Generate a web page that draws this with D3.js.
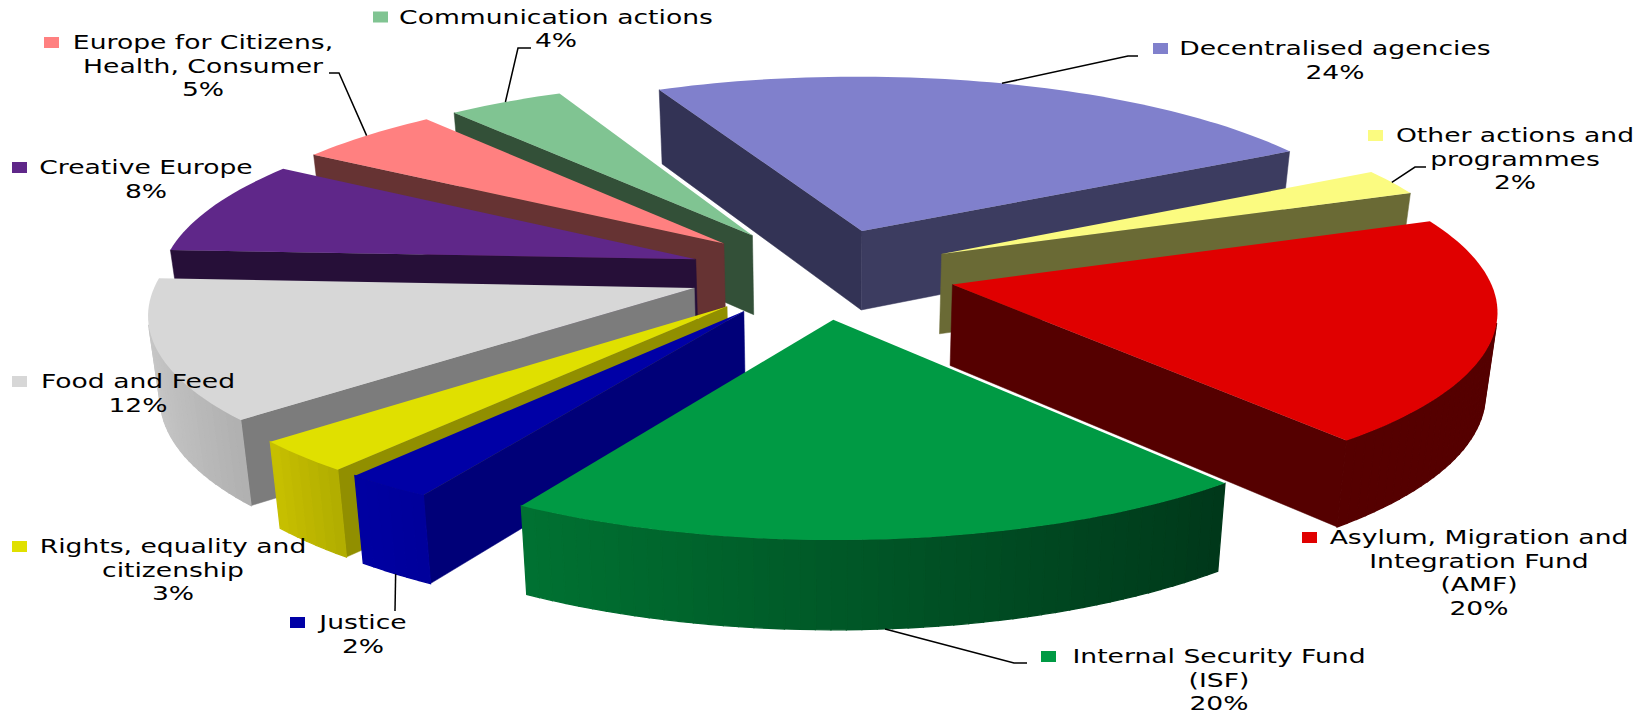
<!DOCTYPE html>
<html>
<head>
<meta charset="utf-8">
<script src="https://cdn.jsdelivr.net/npm/d3@7"></script>
<style>
  body { margin: 0; background: #fff; }
  text { font-family: "DejaVu Sans", sans-serif; font-size: 19px; fill: #000; text-anchor: middle; }
</style>
</head>
<body>
<svg width="1649" height="713"></svg>
<script>
// slices, clockwise from the first one
var labels = [
  ["Decentralised agencies"],
  ["Other actions and", "programmes"],
  ["Asylum, Migration and", "Integration Fund", "(AMF)"],
  ["Internal Security Fund", "(ISF)"],
  ["Justice"],
  ["Rights, equality and", "citizenship"],
  ["Food and Feed"],
  ["Creative Europe"],
  ["Europe for Citizens,", "Health, Consumer"],
  ["Communication actions"]
];
// shares, the labels show them rounded
var values = [23.8, 2.3, 19.7, 19.55, 2.33, 2.8, 12.2, 8.2, 5, 4];

// colours: top, start face, end face, outer wall left, outer wall right
var topColors = ["#8080cc", "#fbfb80", "#e00000", "#009a44", "#0000a6", "#e0e000", "#d7d7d7", "#5f2789", "#ff8080", "#80c492"];
var startColors = ["#333355", "#666633", "#550000", "#003a18", "#000078", "#918f00", "#7c7c7c", "#260f38", "#663333", "#335038"];
var endColors = ["#3c3c60", "#6a6a35", "#550000", "#003a18", "#000078", "#918f00", "#7c7c7c", "#260f38", "#663333", "#335038"];
var wallLeft = ["#3c3c60", "#6a6a35", "#550000", "#007232", "#0000a2", "#c8c000", "#c8c8c8", "#260f38", "#663333", "#335038"];
var wallRight = ["#3c3c60", "#6a6a35", "#550000", "#00381a", "#00009a", "#b0ac00", "#b0b0b0", "#260f38", "#663333", "#335038"];

// back to front
var drawOrder = [0, 1, 2, 9, 8, 7, 6, 5, 4, 3];

// label layout
var labelX = [1335, 1515, 1479, 1219, 363, 173, 138, 146, 203, 556];
var labelY = [55, 142, 544, 663, 629, 553, 388, 174, 49, 23.5];
var markerX = [1153, 1368, 1302, 1041, 290, 12, 12, 12, 44, 373];
// leader lines start at the middle of the rim: top (0) or bottom (1) rim, then elbow and end
var leaderRim = [0, 0, 0, 1, 1, 0, 0, 0, 0, 0];
var leaderElbow = [[1128, 56], [1415, 167], null, [1014, 663], [395, 611], null, null, null, [339, 73], [518, 48]];
var leaderEnd = [[1138, 56], [1426, 167], null, [1027, 663], null, null, null, null, [329, 73], [531, 48]];

var svg = d3.select("svg");

var cx = 822, cy = 273,
    rx = 535, ry = 182,
    depth = 82,
    persp = 0.119,
    shrink = 0.018,
    explode = 0.25,
    lineGap = 23.6,
    stretch = 1.4;

var pie = d3.pie().sort(null)
    .startAngle(-25 * Math.PI / 180)
    .endAngle(335 * Math.PI / 180);
var arcs = pie(values);

// pie plane (u right, v towards the viewer) + height to the screen
function project(u, v, h) {
  var w = 1 / (1 - persp * v) * (1 - shrink * h);
  return [cx + rx * u * w, cy + (ry * v + depth * h) * w];
}

function rimPoint(d, a, h) {
  var mid = (d.startAngle + d.endAngle) / 2;
  return project(Math.sin(a) + explode * Math.sin(mid), -Math.cos(a) - explode * Math.cos(mid), h);
}

function apex(d, h) {
  var mid = (d.startAngle + d.endAngle) / 2;
  return project(explode * Math.sin(mid), -explode * Math.cos(mid), h);
}

var line = d3.line();
function poly(g, pts, color, sw) {
  // only faces turned to the viewer
  if (d3.polygonArea(pts) <= 0) return;
  g.append("path").attr("d", line(pts) + "Z")
      .attr("fill", color).attr("stroke", color).attr("stroke-width", sw);
}

drawOrder.forEach(function(i) {
  var d = arcs[i];
  var g = svg.append("g");
  var steps = Math.max(4, Math.round((d.endAngle - d.startAngle) * 40));
  var angle = d3.scaleLinear().domain([0, steps]).range([d.startAngle, d.endAngle]);
  var rim = d3.range(steps + 1).map(angle);

  poly(g, [apex(d, 0), rimPoint(d, d.startAngle, 0), rimPoint(d, d.startAngle, 1), apex(d, 1)], startColors[i], 0.5);
  poly(g, [rimPoint(d, d.endAngle, 0), apex(d, 0), apex(d, 1), rimPoint(d, d.endAngle, 1)], endColors[i], 0.5);

  // outer wall in narrow bands, shaded from left to right
  var shade = d3.scaleLinear()
      .domain([Math.sin(d.endAngle), Math.sin(d.startAngle)])
      .range([wallLeft[i], wallRight[i]]);
  d3.range(steps).forEach(function(k) {
    var a0 = rim[k], a1 = rim[k + 1];
    poly(g, [rimPoint(d, a0, 0), rimPoint(d, a1, 0), rimPoint(d, a1, 1), rimPoint(d, a0, 1)],
        shade(Math.sin((a0 + a1) / 2)), 1.3);
  });

  var top = [apex(d, 0)].concat(rim.map(function(a) { return rimPoint(d, a, 0); }));
  g.append("path").attr("d", line(top) + "Z").attr("fill", topColors[i]);
});

// leader lines
arcs.forEach(function(d, i) {
  if (!leaderElbow[i]) return;
  var pts = [rimPoint(d, (d.startAngle + d.endAngle) / 2, leaderRim[i]), leaderElbow[i]];
  if (leaderEnd[i]) pts.push(leaderEnd[i]);
  svg.append("path").attr("d", line(pts))
      .attr("fill", "none").attr("stroke", "#000").attr("stroke-width", 1.5);
});

// labels
labels.forEach(function(lines, i) {
  var all = lines.concat([Math.round(values[i]) + "%"]);
  all.forEach(function(t, k) {
    svg.append("text")
        .attr("transform", "translate(" + labelX[i] + "," + (labelY[i] + k * lineGap) + ") scale(" + stretch + ",1)")
        .text(t);
  });
  svg.append("rect")
      .attr("x", markerX[i]).attr("y", labelY[i] - 12)
      .attr("width", 15).attr("height", 11)
      .attr("fill", topColors[i]);
});
</script>
</body>
</html>
